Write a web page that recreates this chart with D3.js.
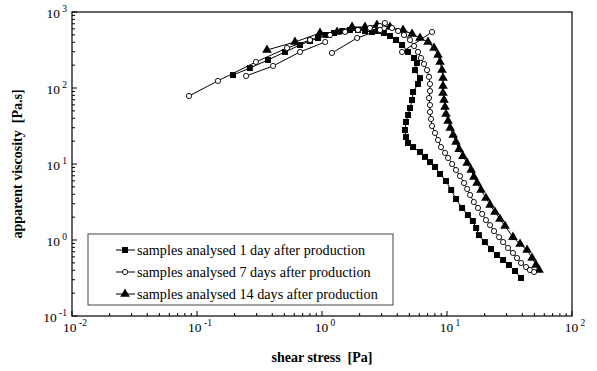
<!DOCTYPE html>
<html>
<head>
<meta charset="utf-8">
<script src="https://cdn.jsdelivr.net/npm/d3@7"></script>
<style>
  body { margin: 0; background: #fff; }
  svg { display: block; font-family: "Liberation Serif", "Times New Roman", serif; }
</style>
</head>
<body>
<svg id="chart" width="597" height="371"></svg>
<script>
// shear stress [Pa], apparent viscosity [Pa.s]
const day1 = [
  [0.194, 148], [0.265, 183], [0.370, 234], [0.506, 298], [0.667, 368], [0.802, 415],
  [0.929, 455], [1.08, 498], [1.25, 529], [1.45, 562], [1.67, 580], [1.94, 580],
  [2.21, 562], [2.51, 546], [2.81, 562], [3.13, 529], [3.50, 483], [3.91, 428],
  [4.37, 368], [4.88, 298], [5.45, 248], [5.75, 213], [5.55, 172], [6.08, 135],
  [5.86, 113], [5.35, 88.6], [5.25, 69.5], [5.06, 54.6], [4.88, 44.2], [4.70, 35.7],
  [4.61, 28.0], [4.70, 22.7], [4.88, 18.9], [5.35, 16.7], [6.08, 14.4], [6.67, 12.4],
  [7.31, 10.6], [8.02, 9.14], [8.79, 7.38], [9.82, 5.97], [10.8, 4.55], [11.8, 3.46],
  [13.2, 2.64], [14.7, 2.13], [16.1, 1.78], [17.1, 1.44], [18.0, 1.16], [20.1, 0.94],
  [22.5, 0.76], [25.1, 0.635], [28.1, 0.546], [31.3, 0.469], [35.0, 0.391], [39.1, 0.316]
];

const day7 = [
  [0.0863, 78.5], [0.147, 124], [0.296, 220], [0.525, 336], [0.802, 428], [1.16, 498],
  [1.53, 546], [1.94, 580], [2.42, 616], [2.91, 654], [3.19, 717], [3.63, 616],
  [4.06, 562], [4.53, 498], [5.06, 428], [5.45, 357], [5.86, 298], [6.19, 248],
  [6.55, 207], [6.92, 172], [7.18, 140], [7.31, 113], [7.31, 91.4], [7.18, 73.8],
  [7.31, 59.7], [7.31, 48.3], [7.45, 39.1], [7.59, 31.6], [8.02, 25.6], [8.47, 20.7],
  [8.95, 16.7], [9.64, 14.0], [10.2, 12.0], [11.0, 10.0], [11.8, 8.34], [12.7, 6.95],
  [13.7, 5.62], [14.5, 4.69], [15.3, 3.91], [16.4, 3.16], [17.7, 2.64], [19.1, 2.20],
  [20.5, 1.83], [22.1, 1.57], [23.8, 1.31], [26.1, 1.09], [28.1, 0.94], [30.8, 0.785],
  [33.7, 0.675], [36.3, 0.579], [39.1, 0.498], [42.9, 0.441], [46.1, 0.403], [49.7, 0.379]
];
const day7Sweep2 = [[0.247, 144], [0.406, 195], [0.667, 298], [1.06, 403]];
const day7Sweep3 = [[1.20, 289], [1.91, 455], [2.91, 580]];
const day7Sweep4 = [[4.37, 298], [7.59, 546]];

const day14 = [
  [0.363, 316], [0.608, 403], [0.964, 529], [1.32, 546], [1.74, 635], [2.21, 635],
  [2.75, 675], [3.50, 635], [4.45, 580], [5.25, 514], [6.08, 455], [7.05, 403],
  [7.87, 336], [8.47, 272], [8.79, 220], [9.12, 172], [9.29, 135], [9.29, 106],
  [9.29, 85.9], [9.46, 69.5], [9.64, 56.2], [9.82, 45.5], [10.2, 36.8], [10.6, 29.8],
  [11.2, 24.1], [11.8, 19.5], [12.5, 15.7], [13.4, 12.7], [14.5, 10.3], [15.6, 8.34],
  [16.4, 6.75], [17.4, 5.62], [18.7, 4.55], [20.5, 3.57], [22.1, 2.89], [24.2, 2.34],
  [26.5, 1.89], [29.1, 1.53], [33.7, 1.09], [38.4, 0.885], [43.7, 0.738], [47.9, 0.579],
  [51.5, 0.469], [54.5, 0.403]
];

const legendLabels = [
  "samples analysed 1 day after production",
  "samples analysed 7 days after production",
  "samples analysed 14 days after production"
];
const xTickExps = [-2, -1, 0, 1, 2];
const yTickExps = [-1, 0, 1, 2, 3];

const svg = d3.select('#chart');
const x = d3.scaleLog().domain([0.01, 100]).range([72, 572]);
const y = d3.scaleLog().domain([0.1, 1000]).range([316, 12]);

const isMajor = v => Math.abs(Math.log10(v) - Math.round(Math.log10(v))) < 1e-6;

// frame
svg.append('rect')
  .attr('x', 72).attr('y', 12).attr('width', 500).attr('height', 304)
  .attr('fill', 'none').attr('stroke', '#000').attr('stroke-width', 1.2);

// inward ticks
svg.append('g').selectAll('line').data(x.ticks()).join('line')
  .attr('x1', d => x(d)).attr('x2', d => x(d))
  .attr('y1', 316).attr('y2', d => 316 - (isMajor(d) ? 5 : 3))
  .attr('stroke', '#000');
svg.append('g').selectAll('line').data(y.ticks()).join('line')
  .attr('y1', d => y(d)).attr('y2', d => y(d))
  .attr('x1', 72).attr('x2', d => 72 + (isMajor(d) ? 5 : 3))
  .attr('stroke', '#000');

function powerLabel(sel, e) {
  sel.append('tspan').text('10');
  sel.append('tspan').attr('font-size', 9.5).attr('dy', -6)
    .text(' ' + (e < 0 ? '-' + Math.abs(e) : e));
}

svg.append('g').selectAll('text').data(xTickExps).join('text')
  .attr('x', e => x(Math.pow(10, e)) + 3).attr('y', 332)
  .attr('text-anchor', 'middle').attr('font-size', 13.5)
  .each(function (e) { powerLabel(d3.select(this), e); });

svg.append('g').selectAll('text').data(yTickExps).join('text')
  .attr('x', 67).attr('y', e => y(Math.pow(10, e)) + 6)
  .attr('text-anchor', 'end').attr('font-size', 13.5)
  .each(function (e) { powerLabel(d3.select(this), e); });

// axis titles
svg.append('text')
  .attr('x', 322).attr('y', 362).attr('text-anchor', 'middle')
  .attr('font-size', 14).attr('font-weight', 'bold').style('white-space', 'pre')
  .text('shear stress  [Pa]');
svg.append('text')
  .attr('transform', 'translate(22,164) rotate(-90)').attr('text-anchor', 'middle')
  .attr('font-size', 14).attr('font-weight', 'bold').style('white-space', 'pre')
  .text('apparent viscosity  [Pa.s]');

const line = d3.line().x(d => x(d[0])).y(d => y(d[1]));
const plot = svg.append('g');

function drawMarkers(g, data, kind) {
  if (kind === 'circle') {
    g.selectAll(null).data(data).join('circle')
      .attr('cx', d => x(d[0])).attr('cy', d => y(d[1])).attr('r', 2.6)
      .attr('fill', '#fff').attr('stroke', '#000').attr('stroke-width', 0.9);
  } else {
    const sym = d3.symbol()
      .type(kind === 'square' ? d3.symbolSquare : d3.symbolTriangle)
      .size(kind === 'square' ? 36 : 40);
    g.selectAll(null).data(data).join('path')
      .attr('transform', d => `translate(${x(d[0])},${y(d[1])})`)
      .attr('d', sym).attr('fill', '#000');
  }
}

function drawSeries(parts, kind) {
  const g = plot.append('g');
  parts.forEach(p => {
    g.append('path').attr('d', line(p)).attr('fill', 'none')
      .attr('stroke', '#000').attr('stroke-width', 1);
  });
  parts.forEach(p => drawMarkers(g, p, kind));
}

drawSeries([day1], 'square');
drawSeries([day14], 'triangle');
drawSeries([day7, day7Sweep2, day7Sweep3, day7Sweep4], 'circle');

// legend
const lg = svg.append('g');
lg.append('rect').attr('x', 88).attr('y', 234).attr('width', 305).attr('height', 71)
  .attr('fill', '#fff').attr('stroke', '#444').attr('stroke-width', 1);
const kinds = ['square', 'circle', 'triangle'];
const rows = [250, 272, 294];
legendLabels.forEach((t, i) => {
  const row = lg.append('g');
  row.append('line').attr('x1', 116).attr('x2', 135)
    .attr('y1', rows[i]).attr('y2', rows[i]).attr('stroke', '#000');
  drawMarkers(row, [[x.invert(125), y.invert(rows[i])]], kinds[i]);
  row.append('text').attr('x', 137).attr('y', rows[i] + 4.5)
    .attr('font-size', 14.2).text(t);
});
</script>
</body>
</html>
